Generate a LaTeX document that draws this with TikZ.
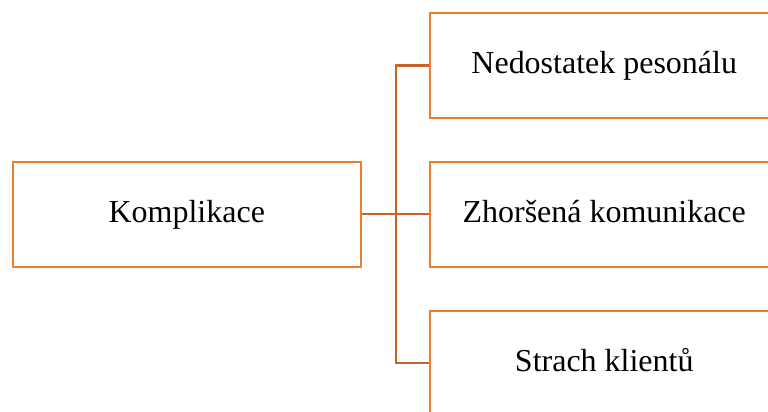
\documentclass[tikz,border=0pt]{standalone}
\usepackage{fontspec}
\setmainfont{Liberation Serif}
\usetikzlibrary{matrix}
\definecolor{boxorange}{RGB}{237,125,49}
\definecolor{linkbrown}{RGB}{200,100,42}

\begin{document}
\begin{tikzpicture}
\useasboundingbox (0,0) rectangle (15.36,-8.22);
\matrix (k) [matrix of nodes, anchor=north west, inner sep=0pt,
row sep=0.83cm, column sep=1.34cm,
nodes={draw=boxorange, line width=1.4pt, inner sep=2pt,
text height=2.3ex, text depth=0.25ex,
minimum width=6.96cm, minimum height=2.1cm,
font=\fontsize{18.2}{22}\selectfont}]
at (0.224,-0.226)
{ & Nedostatek pesonálu \\
Komplikace & Zhoršená komunikace \\
 & Strach klientů \\};
\path (k-2-1.east) ++(0.68,0) coordinate (fork);
\path[draw=linkbrown, line width=1.3pt]
(k-2-1) -- (fork)
(fork) |- (k-1-2)
(fork) -- (k-2-2)
(fork) |- (k-3-2);
\end{tikzpicture}
\end{document}
